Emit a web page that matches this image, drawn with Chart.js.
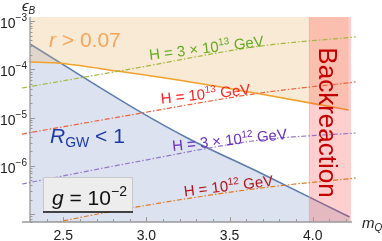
<!DOCTYPE html>
<html lang="en">
<head>
<meta charset="UTF-8">
<title>epsilon_B vs m_Q</title>
<script src="https://cdn.jsdelivr.net/npm/chart.js"></script>
<style>
    body { margin: 0; background: #fff; }
    #wrap { width: 382px; height: 241px; }
</style>
</head>
<body>
<div id="wrap"><canvas id="myChart" width="382" height="241"></canvas></div>
<script>
// values (m_Q on x, epsilon_B on y, log scale)
const mQ_gw = [2.30, 2.963, 3.246, 3.686, 4.222];
const eps_gw = [3.34e-4, 1.31e-5, 3.79e-6, 7.13e-7, 8.75e-8];   // R_GW = 1

const mQ_r = [2.30, 2.463, 2.824, 3.264, 3.686, 4.216];
const eps_r = [1.42e-4, 1.35e-4, 9.2e-5, 5.46e-5, 3.08e-5, 1.44e-5];  // r = 0.07

const mQ_H = [2.252, 2.902, 3.686, 4.258];
const eps_H3e13 = [4.1e-5, 1.01e-4, 3.03e-4, 4.67e-4];
const eps_H1e13 = [4.57e-6, 1.13e-5, 3.23e-5, 5.46e-5];
const eps_H3e12 = [4.22e-7, 1.15e-6, 3.44e-6, 4.8e-6];
const eps_H1e12 = [4.94e-8, 1.34e-7, 3.48e-7, 5.61e-7];

const backreactionFrom = 3.98;

const xMin = 2.3, xMax = 4.23;
const yMin = 6.9e-8, yMax = 1.21e-3;

const xTickLabels = ['2.5', '3.0', '3.5', '4.0'];
const yTickExps = [-3, -4, -5, -6];

function pts(xs, ys) {
    return xs.map((x, i) => ({ x: x, y: ys[i] }));
}

// text with super/subscripts: parts = [{t, size, rise, it}]
function rich(ctx, parts, x, y, angle, color, align) {
    const fam = '"Liberation Sans", Arial, sans-serif';
    const f = p => (p.it ? 'italic ' : '') + p.size + 'px ' + fam;
    ctx.save();
    ctx.translate(x, y);
    ctx.rotate(angle || 0);
    ctx.fillStyle = color;
    ctx.textBaseline = 'alphabetic';
    ctx.textAlign = 'left';
    let w = 0;
    parts.forEach(p => { ctx.font = f(p); w += ctx.measureText(p.t).width; });
    let cx = align === 'center' ? -w / 2 : (align === 'right' ? -w : 0);
    parts.forEach(p => {
        ctx.font = f(p);
        ctx.fillText(p.t, cx, -(p.rise || 0));
        cx += ctx.measureText(p.t).width;
    });
    ctx.restore();
}

const deg = Math.PI / 180;

const decorations = {
    id: 'decorations',
    afterDatasetsDraw(chart) {
        const ctx = chart.ctx;
        // labels in the plot
        rich(ctx, [{t: 'r', size: 21, it: true}, {t: ' > 0.07', size: 21}], 49, 47, 0, '#f7a55a');
        rich(ctx, [{t: 'R', size: 21, it: true}, {t: 'GW', size: 14, rise: -4}, {t: ' < 1', size: 21}], 50, 143, 0, '#1f3aa8');

        rich(ctx, [{t: 'H = 3 × 10', size: 15}, {t: '13', size: 10, rise: 6}, {t: ' GeV', size: 15}], 207, 53, -7 * deg, '#62ab1e', 'center');
        rich(ctx, [{t: 'H = 10', size: 15}, {t: '13', size: 10, rise: 6}, {t: ' GeV', size: 15}], 206, 99, -6 * deg, '#ff2020', 'center');
        rich(ctx, [{t: 'H = 3 × 10', size: 15, it: false}, {t: '12', size: 10, rise: 6}, {t: ' GeV', size: 15}], 230, 145, -6 * deg, '#6a2fc0', 'center');
        rich(ctx, [{t: 'H = 10', size: 15}, {t: '12', size: 10, rise: 6}, {t: ' GeV', size: 15}], 229, 191, -7 * deg, '#b3141a', 'center');

        // Backreaction, rotated
        ctx.save();
        ctx.translate(319, 122.5);
        ctx.rotate(Math.PI / 2);
        ctx.fillStyle = '#c40000';
        ctx.font = '26px "Liberation Sans", Arial, sans-serif';
        ctx.textAlign = 'center';
        ctx.textBaseline = 'alphabetic';
        ctx.fillText('Backreaction', 0, 0);
        ctx.restore();

        // g = 10^-2 box
        ctx.save();
        ctx.fillStyle = '#ededed';
        ctx.fillRect(43, 177, 90, 35);
        ctx.strokeStyle = '#c8c8c8';
        ctx.lineWidth = 1;
        ctx.strokeRect(43.5, 177.5, 89, 34);
        ctx.strokeStyle = '#111';
        ctx.lineWidth = 1.5;
        ctx.beginPath();
        ctx.moveTo(43, 212);
        ctx.lineTo(133, 212);
        ctx.stroke();
        ctx.restore();
        rich(ctx, [{t: 'g', size: 21, it: true}, {t: ' = 10', size: 21}, {t: '−2', size: 14, rise: 9}], 52, 205, 0, '#111');
    },
    afterDraw(chart) {
        const ctx = chart.ctx;
        const xs = chart.scales.x, ys = chart.scales.y;
        const a = chart.chartArea;
        ctx.save();
        ctx.strokeStyle = '#999';
        ctx.lineWidth = 1.3;
        ctx.beginPath();
        ctx.moveTo(a.left, a.top);
        ctx.lineTo(a.left, a.bottom);
        ctx.moveTo(22, a.bottom);
        ctx.lineTo(a.right + 1, a.bottom);
        ctx.stroke();

        // x ticks (inward)
        ctx.lineWidth = 1;
        ctx.beginPath();
        for (let i = 23; i <= 42; i++) {
            const v = i / 10;
            const px = Math.round(xs.getPixelForValue(v)) + 0.5;
            const len = (i % 5 === 0) ? 5 : 3;
            ctx.moveTo(px, a.bottom);
            ctx.lineTo(px, a.bottom - len);
        }
        // y ticks (inward)
        for (let e = -8; e <= -3; e++) {
            for (let k = 1; k <= 9; k++) {
                const v = k * Math.pow(10, e);
                if (v < yMin || v > yMax) continue;
                const py = Math.round(ys.getPixelForValue(v)) + 0.5;
                const len = k === 1 ? 5 : 2.5;
                ctx.moveTo(a.left, py);
                ctx.lineTo(a.left + len, py);
            }
        }
        ctx.stroke();
        ctx.restore();

        // tick labels
        xTickLabels.forEach(l => {
            rich(ctx, [{t: l, size: 14}], xs.getPixelForValue(parseFloat(l)), 240, 0, '#222', 'center');
        });
        yTickExps.forEach(e => {
            const py = ys.getPixelForValue(Math.pow(10, e));
            rich(ctx, [{t: '10', size: 14}, {t: '−' + Math.abs(e), size: 10, rise: 7}], 27, py + 7, 0, '#222', 'right');
        });

        // axis labels
        rich(ctx, [{t: 'ϵ', size: 15, it: true}, {t: 'B', size: 10, it: true, rise: -3}], 22, 11, 0, '#222');
        rich(ctx, [{t: 'm', size: 15, it: true}, {t: 'Q', size: 10, it: true, rise: -3}], 362, 228, 0, '#222');
    }
};

const ctx = document.getElementById('myChart').getContext('2d');
const hLine = (ys, color, ord) => ({
    data: pts(mQ_H, ys),
    borderColor: color,
    borderWidth: 1.2,
    borderDash: [5, 2, 1.5, 2],
    fill: false,
    cubicInterpolationMode: 'monotone',
    clip: { left: 9, right: 6, top: 0, bottom: 0 },
    order: ord
});

new Chart(ctx, {
    type: 'line',
    data: {
        datasets: [
            {
                label: 'R_GW = 1',
                data: pts(mQ_gw, eps_gw),
                borderColor: '#5a7bb0',
                borderWidth: 1.5,
                backgroundColor: 'rgba(138,158,202,0.3)',
                fill: 'start',
                cubicInterpolationMode: 'monotone',
                order: 6
            },
            {
                label: 'r = 0.07',
                data: pts(mQ_r, eps_r),
                borderColor: '#f0a22a',
                borderWidth: 1.6,
                backgroundColor: 'rgba(235,185,118,0.3)',
                fill: 'end',
                cubicInterpolationMode: 'monotone',
                order: 5
            },
            {
                label: 'Backreaction',
                data: [{ x: backreactionFrom, y: yMax }, { x: xMax, y: yMax }],
                borderWidth: 0,
                backgroundColor: 'rgba(255,60,60,0.25)',
                fill: 'start',
                order: 4
            },
            {
                label: 'edge',
                data: [{ x: backreactionFrom, y: yMin }, { x: backreactionFrom, y: yMax }],
                borderColor: 'rgba(255,150,150,0.6)',
                borderWidth: 1,
                fill: false,
                order: 4
            },
            hLine(eps_H3e13, '#a2b83e', 0),
            hLine(eps_H1e13, '#f0603e', 1),
            hLine(eps_H3e12, '#9477c9', 2),
            hLine(eps_H1e12, '#e07b22', 3)
        ]
    },
    options: {
        responsive: false,
        animation: false,
        layout: { padding: { left: 30, right: 31, top: 17, bottom: 19 } },
        plugins: { legend: { display: false }, tooltip: { enabled: false } },
        elements: { point: { radius: 0 } },
        scales: {
            x: { type: 'linear', min: xMin, max: xMax, display: false },
            y: { type: 'logarithmic', min: yMin, max: yMax, display: false }
        }
    },
    plugins: [decorations]
});
</script>
</body>
</html>
